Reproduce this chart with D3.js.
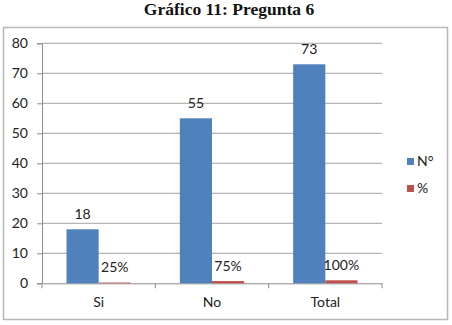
<!DOCTYPE html>
<html>
<head>
<meta charset="utf-8">
<script src="https://cdn.jsdelivr.net/npm/d3@7"></script>
<style>
  body { margin: 0; background: #fff; }
  svg text { font-family: Lato, "Open Sans", sans-serif; fill: #222; }
</style>
</head>
<body>
<div id="chart"></div>
<script>
// chart data
var categories = ['Si', 'No', 'Total'];
var seriesNames = ['N°', '%'];
var counts = [18, 55, 73];
var percents = [0.25, 0.75, 1];
var percentLabels = ['25%', '75%', '100%'];
var yTicks = [0, 10, 20, 30, 40, 50, 60, 70, 80];
var colors = ['#4f81bd', '#c0504d'];

var W = 452, H = 325;
var margins = {left: 42, right: 70, top: 43.3, bottom: 41.7};
var fs = '14px';

var svg = d3.select('#chart').append('svg')
  .attr('width', W)
  .attr('height', H);

// title
svg.append('text')
  .attr('x', 229)
  .attr('y', 15)
  .attr('text-anchor', 'middle')
  .style('font-family', '"Liberation Serif", "Times New Roman", serif')
  .style('font-weight', 'bold')
  .style('font-size', '17.5px')
  .style('fill', '#111')
  .text('Gráfico 11: Pregunta 6');

// frame
svg.append('rect')
  .attr('x', 3.5).attr('y', 27.5)
  .attr('width', 444).attr('height', 292)
  .attr('fill', 'none')
  .attr('stroke', '#b8b8b8')
  .attr('stroke-width', 1.5);

var w = 382 - margins.left, h = 283.3 - margins.top;
var g = svg.append('g')
  .attr('transform', 'translate(' + margins.left + ',' + margins.top + ')');

var x = d3.scaleBand().domain(categories).range([0, w]).paddingInner(0).paddingOuter(0);
var x1 = d3.scaleBand().domain(seriesNames).range([24.5, x.bandwidth() - 24.5]);
var y = d3.scaleLinear().domain([0, 80]).range([h, 0]);

// gridlines
g.selectAll('.grid')
  .data(yTicks.filter(function(d) { return d > 0; }))
  .enter().append('line')
  .attr('x1', 0).attr('x2', w)
  .attr('y1', function(d) { return y(d); })
  .attr('y2', function(d) { return y(d); })
  .attr('stroke', '#8c8c8c')
  .attr('stroke-width', 0.8);

// y axis
var yAxis = d3.axisLeft(y).tickValues(yTicks).tickSize(5).tickPadding(9);
var ya = g.append('g').call(yAxis);
ya.select('.domain').attr('stroke', '#8c8c8c');
ya.selectAll('.tick line').attr('stroke', '#8c8c8c');
ya.selectAll('text').style('font-size', fs).style('font-family', 'Lato, sans-serif').attr('fill', '#222');

// x axis
var xa = g.append('g').attr('transform', 'translate(0,' + h + ')')
  .call(d3.axisBottom(x).tickSize(0).tickPadding(14));
xa.select('.domain').attr('stroke', '#8c8c8c');
xa.selectAll('text').style('font-size', fs).style('font-family', 'Lato, sans-serif').attr('fill', '#222');
g.selectAll('.xtick')
  .data(d3.range(categories.length + 1))
  .enter().append('line')
  .attr('x1', function(i) { return i * x.bandwidth(); })
  .attr('x2', function(i) { return i * x.bandwidth(); })
  .attr('y1', h).attr('y2', h + 5)
  .attr('stroke', '#8c8c8c');

// bars
var rows = categories.map(function(c, i) {
  return {cat: c, vals: [counts[i], percents[i]], labels: [String(counts[i]), percentLabels[i]]};
});

var grp = g.selectAll('.cat')
  .data(rows)
  .enter().append('g')
  .attr('transform', function(d) { return 'translate(' + x(d.cat) + ',0)'; });

grp.selectAll('rect')
  .data(function(d) { return d.vals.map(function(v, j) { return {s: seriesNames[j], v: v, j: j}; }); })
  .enter().append('rect')
  .attr('x', function(d) { return x1(d.s); })
  .attr('y', function(d) { return y(d.v); })
  .attr('width', x1.bandwidth())
  .attr('height', function(d) { return h - y(d.v); })
  .attr('fill', function(d) { return colors[d.j]; });

grp.selectAll('.lbl')
  .data(function(d) { return d.vals.map(function(v, j) { return {s: seriesNames[j], v: v, t: d.labels[j]}; }); })
  .enter().append('text')
  .attr('x', function(d) { return x1(d.s) + x1.bandwidth() / 2; })
  .attr('y', function(d) { return y(d.v) - 10.5; })
  .attr('text-anchor', 'middle')
  .style('font-size', fs)
  .text(function(d) { return d.t; });

// legend
var leg = svg.append('g').attr('transform', 'translate(407,158)');
seriesNames.forEach(function(s, i) {
  leg.append('rect')
    .attr('x', 0).attr('y', i * 27)
    .attr('width', 7).attr('height', 7)
    .attr('fill', colors[i]);
  leg.append('text')
    .attr('x', 10).attr('y', i * 27 + 3.5)
    .attr('dy', '0.35em')
    .style('font-size', fs)
    .text(s);
});
</script>
</body>
</html>
